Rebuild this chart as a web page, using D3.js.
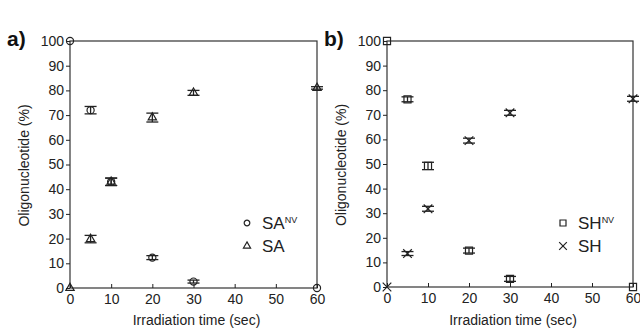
<!DOCTYPE html>
<html>
<head>
<meta charset="utf-8">
<script src="https://cdn.jsdelivr.net/npm/d3@7"></script>
<style>
  body { margin: 0; background: #fff; }
  svg { font-family: "Liberation Sans", Arial, sans-serif; }
</style>
</head>
<body>
<script>
// irradiation times (sec)
const times = [0, 5, 10, 20, 30, 60];
const xTicks = [0, 10, 20, 30, 40, 50, 60];
const yTicks = [0, 10, 20, 30, 40, 50, 60, 70, 80, 90, 100];

// panel a
const saNV = [100, 72, 43, 12.3, 2.6, 0];
const saNVErr = [0, 1.5, 1.5, 0.8, 0.6, 0];
const sa = [0, 19.8, 43, 69, 79, 81];
const saErr = [0, 1.5, 1.5, 1.8, 1, 0.5];

// panel b
const shNV = [100, 76.3, 49.2, 14.8, 3.3, 0];
const shNVErr = [0, 1, 1.5, 1, 1, 0];
const sh = [0, 13.6, 31.8, 59.5, 70.8, 76.5];
const shErr = [0, 0.8, 1, 1, 1, 1];

const width = 640, height = 330;
const ink = "#222";

const svg = d3.select("body").append("svg")
  .attr("width", width)
  .attr("height", height);

function drawPanel(opts) {
  const x = d3.scaleLinear().domain([0, 60]).range([opts.left, opts.right]);
  const y = d3.scaleLinear().domain([0, 100]).range([opts.bottom, opts.top]);
  const g = svg.append("g");

  // frame
  g.append("rect")
    .attr("x", opts.left).attr("y", opts.top)
    .attr("width", opts.right - opts.left).attr("height", opts.bottom - opts.top)
    .attr("fill", "none").attr("stroke", "#333").attr("stroke-width", 1.2);

  // y axis, ticks outside
  const yAxis = g.append("g")
    .attr("transform", `translate(${opts.left},0)`)
    .call(d3.axisLeft(y).tickValues(yTicks).tickSize(4).tickPadding(2));
  yAxis.select(".domain").remove();
  yAxis.selectAll("line").attr("stroke", ink);
  yAxis.selectAll("text").attr("font-size", 14).attr("fill", ink)
    .attr("font-family", "Liberation Sans, Arial, sans-serif");

  // x axis, ticks inside
  const xAxis = g.append("g")
    .attr("transform", `translate(0,${opts.bottom})`)
    .call(d3.axisBottom(x).tickValues(xTicks).tickSize(-4).tickPadding(6));
  xAxis.select(".domain").remove();
  xAxis.selectAll("line").attr("stroke", ink);
  xAxis.selectAll("text").attr("font-size", 14).attr("fill", ink)
    .attr("font-family", "Liberation Sans, Arial, sans-serif");

  // axis titles
  g.append("text")
    .attr("x", (opts.left + opts.right) / 2 + 3).attr("y", 325)
    .attr("text-anchor", "middle").attr("font-size", 14).attr("fill", ink)
    .text("Irradiation time (sec)");
  g.append("text")
    .attr("transform", `translate(${opts.left - 41},${(opts.top + opts.bottom) / 2 + 1}) rotate(-90)`)
    .attr("text-anchor", "middle").attr("font-size", 14).attr("fill", ink)
    .text("Oligonucleotide (%)");

  // panel letter
  g.append("text")
    .attr("x", opts.left - 63).attr("y", 46)
    .attr("font-size", 21).attr("font-weight", "bold").attr("fill", "#111")
    .text(opts.letter);

  // series
  opts.series.forEach(s => {
    const pts = times.map((t, i) => ({ t: t, v: s.values[i], e: s.err[i] }));
    const eb = g.append("g").attr("stroke", ink).attr("stroke-width", 1.3);
    pts.filter(d => d.e > 0).forEach(d => {
      eb.append("line")
        .attr("x1", x(d.t)).attr("x2", x(d.t))
        .attr("y1", y(d.v + d.e)).attr("y2", y(d.v - d.e));
      [d.v + d.e, d.v - d.e].forEach(v => {
        eb.append("line")
          .attr("x1", x(d.t) - 6).attr("x2", x(d.t) + 6)
          .attr("y1", y(v)).attr("y2", y(v));
      });
    });
    g.append("g").selectAll("path")
      .data(pts)
      .join("path")
      .attr("transform", d => `translate(${x(d.t)},${y(d.v)})`)
      .attr("d", d3.symbol().type(s.symbol).size(s.size))
      .attr("fill", "none")
      .attr("stroke", ink)
      .attr("stroke-width", 1.2);
  });

  // legend
  opts.series.forEach((s, i) => {
    const ly = opts.legendY + i * 23;
    g.append("path")
      .attr("transform", `translate(${opts.legendX},${ly})`)
      .attr("d", d3.symbol().type(s.symbol).size(s.legendSize))
      .attr("fill", "none").attr("stroke", ink).attr("stroke-width", 1.2);
    const t = g.append("text")
      .attr("x", opts.legendX + 15).attr("y", ly + 6)
      .attr("font-size", 17).attr("fill", ink)
      .text(s.name);
    if (s.sup) {
      t.append("tspan").attr("dy", -6).attr("font-size", 9).text(s.sup);
    }
  });
}

drawPanel({
  letter: "a)", left: 70, right: 317, top: 41, bottom: 288,
  legendX: 247, legendY: 223,
  series: [
    { name: "SA", sup: "NV", values: saNV, err: saNVErr, symbol: d3.symbolCircle, size: 40, legendSize: 25 },
    { name: "SA", sup: "", values: sa, err: saErr, symbol: d3.symbolTriangle, size: 30, legendSize: 22 }
  ]
});

drawPanel({
  letter: "b)", left: 387, right: 633, top: 41, bottom: 287,
  legendX: 563, legendY: 223,
  series: [
    { name: "SH", sup: "NV", values: shNV, err: shNVErr, symbol: d3.symbolSquare, size: 50, legendSize: 36 },
    { name: "SH", sup: "", values: sh, err: shErr, symbol: d3.symbolX, size: 50, legendSize: 40 }
  ]
});
</script>
</body>
</html>
